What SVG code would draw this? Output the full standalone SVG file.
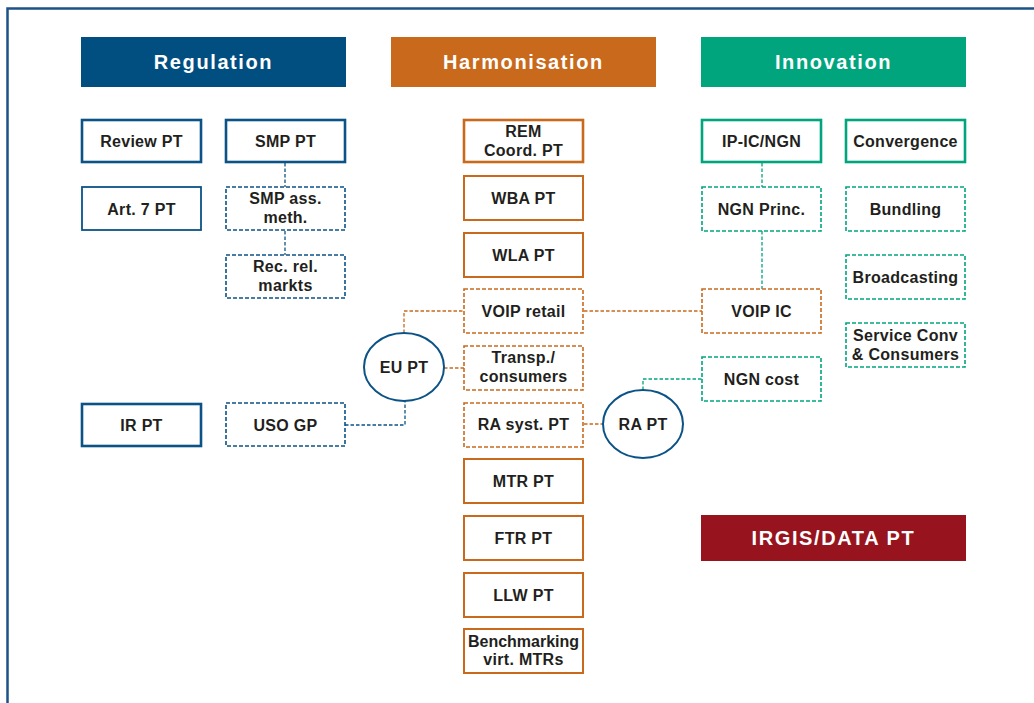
<svg xmlns="http://www.w3.org/2000/svg" width="1034" height="703" viewBox="0 0 1034 703">
<style>
text{font-family:"Liberation Sans",Arial,sans-serif;font-weight:bold;fill:#231f20;font-size:16px;text-anchor:middle;letter-spacing:0.3px}
.hdr{fill:#fff;font-size:20px;letter-spacing:1.6px}
rect.n{fill:#fff}
.bT{stroke:#0b5386;stroke-width:2.6}
.bt{stroke:#0b5386;stroke-width:1.8}
.bd{stroke:#0b5386;stroke-width:1.6;stroke-dasharray:4 2}
.oT{stroke:#c8691b;stroke-width:2.6}
.ot{stroke:#c8691b;stroke-width:2}
.od{stroke:#c8691b;stroke-width:1.6;stroke-dasharray:4 2}
.gT{stroke:#00a57e;stroke-width:2.6}
.gd{stroke:#00a57e;stroke-width:1.6;stroke-dasharray:4 2}
.c{fill:none;stroke-width:1.3;stroke-dasharray:3.5 2}
.cb{stroke:#0b5386}.co{stroke:#c8691b}.cg{stroke:#00a57e}
ellipse{fill:#fff;stroke:#0b5386;stroke-width:2}
</style>
<path d="M7.5,703 V8.5 H1034" fill="none" stroke="#1d5286" stroke-width="2.5"/>
<g id="connectors">
<path class="c cb" d="M285,163 V187 M285,231 V255"/>
<path class="c cb" d="M345,425 H405 V401"/>
<path class="c co" d="M404,333 V311 H464"/>
<path class="c co" d="M444,368 H464"/>
<path class="c co" d="M584,311 H702"/>
<path class="c co" d="M584,424 H603"/>
<path class="c cg" d="M643,390 V379 H702"/>
<path class="c cg" d="M762,163 V187 M762,231 V289"/>
</g>
<g id="hdr-regulation"><rect x="81" y="37" width="265" height="50" fill="#004f80"/><text class="hdr" x="213.5" y="69">Regulation</text></g>
<g id="hdr-harmonisation"><rect x="391" y="37" width="265" height="50" fill="#c8691b"/><text class="hdr" x="523.5" y="69">Harmonisation</text></g>
<g id="hdr-innovation"><rect x="701" y="37" width="265" height="50" fill="#00a57e"/><text class="hdr" x="833.5" y="69">Innovation</text></g>
<g id="irgis"><rect x="701" y="515" width="265" height="46" fill="#97141f"/><text class="hdr" x="833.5" y="545">IRGIS/DATA PT</text></g>

<g id="review"><rect class="n bT" x="82" y="120" width="119" height="42"/><text x="141.5" y="147">Review PT</text></g>
<g id="smp"><rect class="n bT" x="226" y="120" width="119" height="42"/><text x="285.5" y="147">SMP PT</text></g>
<g id="art7"><rect class="n bt" x="82" y="187" width="119" height="43"/><text x="141.5" y="215">Art. 7 PT</text></g>
<g id="smpass"><rect class="n bd" x="226" y="187" width="119" height="43"/><text x="285.5" y="204">SMP ass.</text><text x="285.5" y="223">meth.</text></g>
<g id="recrel"><rect class="n bd" x="226" y="255" width="119" height="43"/><text x="285.5" y="272">Rec. rel.</text><text x="285.5" y="291">markts</text></g>
<g id="irpt"><rect class="n bT" x="82" y="404" width="119" height="42"/><text x="141.5" y="431">IR PT</text></g>
<g id="usogp"><rect class="n bd" x="226" y="403" width="119" height="43"/><text x="285.5" y="431">USO GP</text></g>

<g id="eupt"><ellipse cx="404" cy="367" rx="40" ry="34"/><text x="404" y="373">EU PT</text></g>
<g id="rapt"><ellipse cx="643" cy="424" rx="40" ry="34"/><text x="643" y="430">RA PT</text></g>

<g id="rem"><rect class="n oT" x="464" y="120" width="119" height="42"/><text x="523.5" y="137">REM</text><text x="523.5" y="156">Coord. PT</text></g>
<g id="wba"><rect class="n ot" x="464" y="176" width="119" height="44"/><text x="523.5" y="204">WBA PT</text></g>
<g id="wla"><rect class="n ot" x="464" y="233" width="119" height="44"/><text x="523.5" y="261">WLA PT</text></g>
<g id="voipretail"><rect class="n od" x="464" y="289" width="119" height="44"/><text x="523.5" y="317">VOIP retail</text></g>
<g id="transp"><rect class="n od" x="464" y="346" width="119" height="44"/><text x="523.5" y="363">Transp./</text><text x="523.5" y="382">consumers</text></g>
<g id="rasyst"><rect class="n od" x="464" y="403" width="119" height="44"/><text x="523.5" y="430">RA syst. PT</text></g>
<g id="mtr"><rect class="n ot" x="464" y="459" width="119" height="44"/><text x="523.5" y="487">MTR PT</text></g>
<g id="ftr"><rect class="n ot" x="464" y="516" width="119" height="44"/><text x="523.5" y="544">FTR PT</text></g>
<g id="llw"><rect class="n ot" x="464" y="573" width="119" height="44"/><text x="523.5" y="601">LLW PT</text></g>
<g id="bench"><rect class="n ot" x="464" y="629" width="119" height="44"/><text x="523.5" y="647" style="letter-spacing:0">Benchmarking</text><text x="523.5" y="665">virt. MTRs</text></g>

<g id="ipic"><rect class="n gT" x="702" y="120" width="119" height="42"/><text x="761.5" y="147">IP-IC/NGN</text></g>
<g id="ngnprinc"><rect class="n gd" x="702" y="187" width="119" height="44"/><text x="761.5" y="215">NGN Princ.</text></g>
<g id="voipic"><rect class="n od" x="702" y="289" width="119" height="44"/><text x="761.5" y="317">VOIP IC</text></g>
<g id="ngncost"><rect class="n gd" x="702" y="357" width="119" height="44"/><text x="761.5" y="385">NGN cost</text></g>
<g id="conv"><rect class="n gT" x="846" y="120" width="119" height="42"/><text x="905.5" y="147">Convergence</text></g>
<g id="bundling"><rect class="n gd" x="846" y="187" width="119" height="44"/><text x="905.5" y="215">Bundling</text></g>
<g id="broad"><rect class="n gd" x="846" y="255" width="119" height="44"/><text x="905.5" y="283">Broadcasting</text></g>
<g id="servconv"><rect class="n gd" x="846" y="323" width="119" height="44"/><text x="905.5" y="341">Service Conv</text><text x="905.5" y="360">&amp; Consumers</text></g>
</svg>
